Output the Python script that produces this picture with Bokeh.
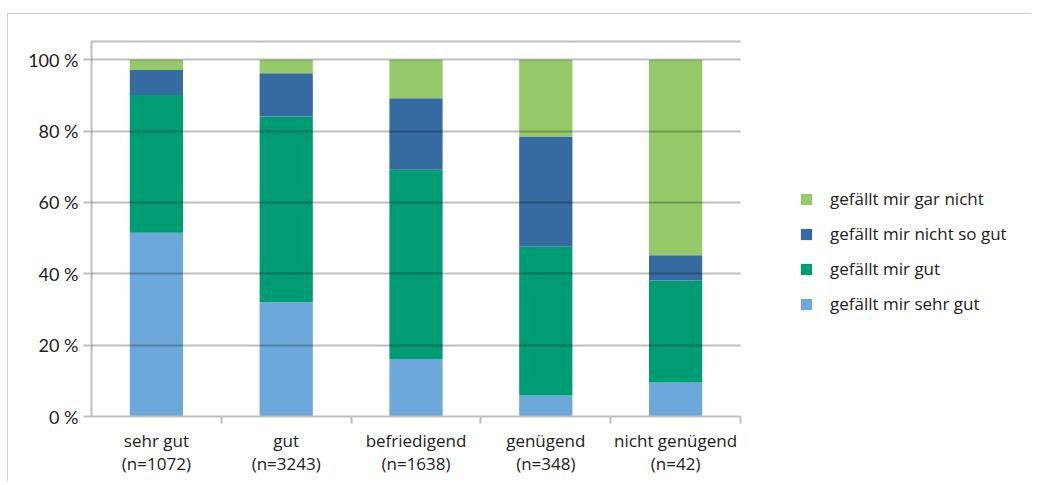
from bokeh.plotting import figure
from bokeh.models import (ColumnDataSource, FixedTicker, Range1d, Legend, LegendItem)
from bokeh.embed import file_html
from bokeh.resources import INLINE

categories = ["sehr gut", "gut", "befriedigend", "genügend", "nicht genügend"]
n_counts = ["1072", "3243", "1638", "348", "42"]
series_names = ["gefällt mir sehr gut", "gefällt mir gut",
                "gefällt mir nicht so gut", "gefällt mir gar nicht"]
sehr_gut_vals = [51.5, 32.0, 16.1, 5.9, 9.5]
gut_vals = [38.6, 52.1, 53.1, 41.7, 28.6]
nicht_so_gut_vals = [7.0, 12.1, 20.0, 30.9, 7.1]
gar_nicht_vals = [2.9, 3.8, 10.8, 21.5, 54.8]
colors = ["#6CA8DA", "#009C73", "#366BA2", "#95C96A"]
y_ticks = [0, 20, 40, 60, 80, 100]
y_tick_labels = ["0 %", "20 %", "40 %", "60 %", "80 %", "100 %"]

ncat = len(categories)
xs = [i + 0.5 for i in range(ncat)]
keys = ["s0", "s1", "s2", "s3"]
source = ColumnDataSource(dict(x=xs, s0=sehr_gut_vals, s1=gut_vals,
                               s2=nicht_so_gut_vals, s3=gar_nicht_vals))

# layout: plot area of categories is 649px of a 941px wide frame (legend at right)
W, H, LEFT = 1024, 468, 83
FRAME_W, CAT_W = W - LEFT, 649
p = figure(width=W, height=H, output_backend="svg", toolbar_location=None,
           x_range=Range1d(0, ncat * FRAME_W / CAT_W), y_range=Range1d(0, 105.4),
           min_border_left=LEFT, min_border_right=0, min_border_top=26,
           min_border_bottom=66,
           styles={"margin-top": "13px", "margin-left": "7px",
                   "border-top": "1px solid #cfcfcf", "border-left": "1px solid #cfcfcf"})
p.outline_line_color = None
p.background_fill_color = "white"
p.border_fill_color = "white"

renderers = p.vbar_stack(keys, x="x", width=0.41, color=colors, line_color=None,
                         source=source)

# legend (top row = last series)
items = [LegendItem(label=series_names[i], renderers=[renderers[i]]) for i in [3, 2, 1, 0]]
legend = Legend(items=items, location=(708, 101), orientation="vertical",
                padding=0, margin=0, border_line_color=None, background_fill_alpha=0,
                glyph_width=14, glyph_height=14, label_height=16, spacing=12,
                label_standoff=17, label_text_font="Open Sans",
                label_text_font_size="17px", label_text_color="#222222")
p.add_layout(legend)

# grid (incl. top border line of the plot area)
p.xgrid.visible = False
p.ygrid.ticker = FixedTicker(ticks=y_ticks + [105])
p.ygrid.cross_bounds = (0, ncat)
p.ygrid.grid_line_color = "black"
p.ygrid.grid_line_alpha = 0.25
p.ygrid.grid_line_width = 2
p.ygrid.level = "annotation"

# y axis
p.yaxis.ticker = FixedTicker(ticks=y_ticks)
p.yaxis.bounds = (0, 105)
p.yaxis.major_label_overrides = {t: l for t, l in zip(y_ticks, y_tick_labels)}
p.yaxis.axis_line_color = "#bfbfbf"
p.yaxis.axis_line_width = 2
p.yaxis.major_tick_line_color = "#bfbfbf"
p.yaxis.major_tick_line_width = 2
p.yaxis.major_tick_out = 8
p.yaxis.major_tick_in = 0
p.yaxis.minor_tick_line_color = None
p.yaxis.major_label_standoff = 5
p.yaxis.major_label_text_font = "Lato"
p.yaxis.major_label_text_font_size = "18px"
p.yaxis.major_label_text_color = "#222222"

# x axis
p.xaxis.ticker = FixedTicker(ticks=xs, minor_ticks=list(range(1, ncat + 1)))
p.xaxis.bounds = (0, ncat)
p.xaxis.major_label_overrides = {x: f"{c}\n(n={n})" for x, c, n in zip(xs, categories, n_counts)}
p.xaxis.axis_line_color = "#bfbfbf"
p.xaxis.axis_line_width = 2
p.xaxis.major_tick_line_color = None
p.xaxis.minor_tick_line_color = "#bfbfbf"
p.xaxis.minor_tick_line_width = 2
p.xaxis.minor_tick_out = 7
p.xaxis.minor_tick_in = 0
p.xaxis.major_label_standoff = 5
p.xaxis.major_label_text_font = "Open Sans"
p.xaxis.major_label_text_font_size = "17px"
p.xaxis.major_label_text_color = "#222222"
p.xaxis.major_label_text_line_height = 1.0

open("out.html", "w").write(file_html(p, INLINE))
